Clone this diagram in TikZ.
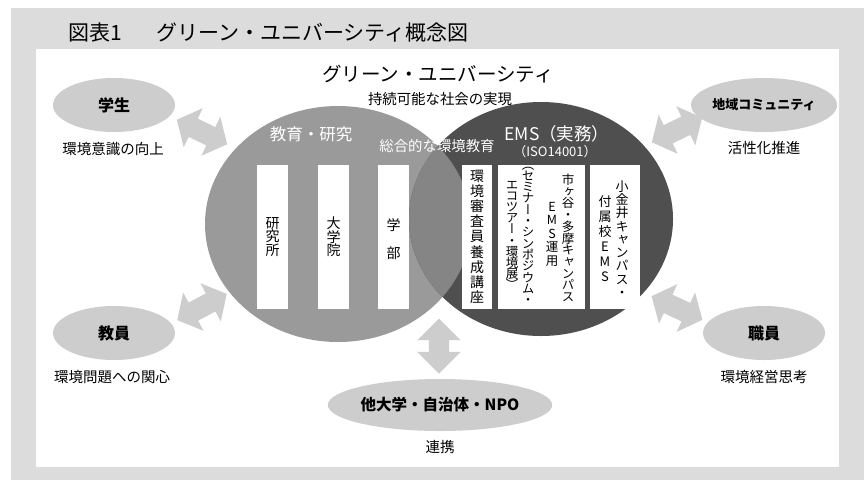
\documentclass[tikz,border=0pt]{standalone}
\usepackage{fontspec}
\setmainfont{Noto Sans CJK JP}
\newfontfamily\vfont[RawFeature=+vert]{Noto Sans CJK JP}
\usetikzlibrary{shapes.geometric,shapes.arrows}
\definecolor{bggray}{HTML}{DCDCDC}
\definecolor{pillgray}{HTML}{CDCDCD}
\definecolor{edugray}{HTML}{9A9A9A}
\definecolor{emsgray}{HTML}{4F4F4F}
\definecolor{lensgray}{HTML}{858585}
\newcommand{\fsz}[1]{\fontsize{#1}{#1}\selectfont}
\newcommand{\vcf}[2]{\vfont\fontsize{#1}{#2}\selectfont\lineskiplimit=-100pt\relax}
\tikzset{
  pill/.style={ellipse, fill=pillgray, inner sep=0pt, font=\fsz{16}\bfseries},
  sublabel/.style={inner sep=0pt, font=\fsz{14.5}},
  wbox/.style={fill=white, inner sep=0pt, minimum height=144pt},
  vcol/.style={inner sep=0pt, anchor=north, align=center},
  dblarrow/.style={double arrow, fill=pillgray, inner xsep=0pt, inner ysep=10pt,
    double arrow head extend=11.5pt, double arrow tip angle=100},
  wtext/.style={inner sep=0pt, text=white}
}
\begin{document}
\begin{tikzpicture}[x=1pt,y=-1pt]
\useasboundingbox (0,0) rectangle (864,480);
% frame
\fill[bggray] (11,8) rectangle (864,480);
\fill[white] (36,49) rectangle (839,467);
% title
\node[inner sep=0pt, anchor=west, font=\fsz{21}] (t1) at (68,33) {図表1};
\node[inner sep=0pt, anchor=west, font=\fsz{21}] (t2) at (156,33) {グリーン・ユニバーシティ概念図};
\node[inner sep=0pt, font=\fsz{19.5}] (sub1) at (438,74) {グリーン・ユニバーシティ};
\node[inner sep=0pt, font=\fsz{14.4}] (sub2) at (440,99) {持続可能な社会の実現};
% circles
\fill[edugray] (338,224) ellipse [x radius=133pt, y radius=118pt];
\fill[emsgray] (541,219) ellipse [x radius=132pt, y radius=117pt];
\begin{scope}
  \clip (338,224) ellipse [x radius=133pt, y radius=118pt];
  \fill[lensgray] (541,219) ellipse [x radius=132pt, y radius=117pt];
\end{scope}
\node[wtext, font=\fsz{16.5}] (edu) at (311,134) {教育・研究};
\node[wtext, font=\fsz{17.5}] (ems) at (557,134) {EMS（実務）};
\node[wtext, font=\fsz{13}] (iso) at (555,151.5) {（ISO14001）};
\node[wtext, font=\fsz{14.4}] (sogo) at (437,146) {総合的な環境教育};
% white boxes
\node[wbox, minimum width=31pt] (b1) at (272.5,237) {};
\node[wbox, minimum width=31pt] (b2) at (333.5,237) {};
\node[wbox, minimum width=31pt] (b3) at (393.5,237) {};
\node[wbox, minimum width=30pt] (b4) at (477,237) {};
\node[wbox, minimum width=87pt] (b5) at (541.5,237) {};
\node[wbox, minimum width=50pt] (b6) at (615,237) {};
% vertical texts
\node[vcol, font=\vcf{14}{13.5}] (c1) at (272.5,217) {研\\究\\所};
\node[vcol, font=\vcf{14}{13.5}] (c2) at (333.5,217) {大\\学\\院};
\node[vcol, font=\vcf{14}{14}] (c3) at (393.5,218) {学\\\mbox{}\\部};
\node[vcol, font=\vcf{14}{15.1}] (c4) at (477,170) {環\\境\\審\\査\\員\\養\\成\\講\\座};
\node[vcol, font=\vcf{12.5}{11.7}] (c5) at (568,173.75) {市\\ヶ\\谷\\・\\多\\摩\\キ\\ャ\\ン\\パ\\ス};
\node[vcol, font=\vcf{12.5}{13.5}] (c6) at (552,201.75) {E\\M\\S\\運\\用};
\node[vcol, font=\vcf{12.5}{11.3}] (c7) at (528,166.5) {（\\セ\\ミ\\ナ\\ー\\・\\シ\\ン\\ポ\\ジ\\ウ\\ム\\・};
\node[vcol, font=\vcf{12.5}{11.2}] (c8) at (512,180.75) {エ\\コ\\ツ\\ア\\ー\\・\\環\\境\\展\\）};
\node[vcol, font=\vcf{13}{13.25}] (c9) at (622,180.5) {小\\金\\井\\キ\\ャ\\ン\\パ\\ス\\・};
\node[vcol, font=\vcf{13}{15}] (c10) at (605,195.5) {付\\属\\校\\E\\M\\S};
% partner ellipses
\node[pill, minimum width=122pt, minimum height=54pt] (stu) at (114,105) {学生};
\node[sublabel] (stuL) at (113,149) {環境意識の向上};
\node[pill, minimum width=122pt, minimum height=54pt] (fac) at (114,333) {教員};
\node[sublabel] (facL) at (112,377) {環境問題への関心};
\node[pill, minimum width=122pt, minimum height=54pt, font=\fsz{13}\bfseries] (com) at (764,105) {地域コミュニティ};
\node[sublabel] (comL) at (764,148) {活性化推進};
\node[pill, minimum width=122pt, minimum height=54pt] (sta) at (764,333) {職員};
\node[sublabel] (staL) at (764,377) {環境経営思考};
\node[pill, minimum width=175pt, minimum height=52pt, font=\fsz{15.5}\bfseries] (npo) at (440,405) {他大学・自治体・NPO};
\node[sublabel] (npoL) at (440,447) {連携};
% block arrows
\node[dblarrow, minimum height=56pt, rotate=-26] (a1) at (202,132) {};
\node[dblarrow, minimum height=56pt, rotate=28] (a2) at (202,307) {};
\node[dblarrow, minimum height=56pt, rotate=26] (a3) at (677,130) {};
\node[dblarrow, minimum height=56pt, rotate=-25] (a4) at (677,308) {};
\node[dblarrow, minimum height=55pt, rotate=90, double arrow tip angle=90] (a5) at (439,346) {};
\end{tikzpicture}
\end{document}
